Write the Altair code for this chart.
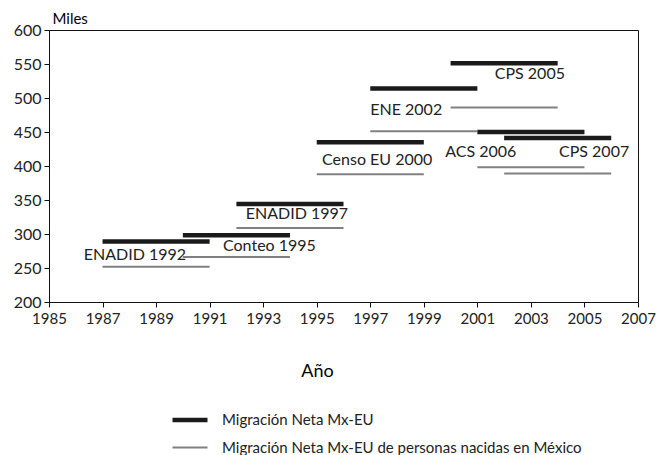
import altair as alt
import pandas as pd

sources = ["ENADID 1992", "Conteo 1995", "ENADID 1997", "Censo EU 2000",
           "ENE 2002", "CPS 2005", "ACS 2006", "CPS 2007"]
start_year = [1987, 1990, 1992, 1995, 1997, 2000, 2001, 2002]
end_year = [1991, 1994, 1996, 1999, 2001, 2004, 2005, 2006]
total_net = [289, 298, 344, 435, 514, 551, 450, 441]
mex_born_net = [252, 266, 309, 388, 451, 486, 398, 389]

label_x = [1986.3, 1991.5, 1992.35, 1995.2, 1997.0, 2001.65, 1999.8, 2004.05]
label_y = [269, 282, 330, 409, 482, 535, 420, 420]

s1 = "Migración Neta Mx-EU"
s2 = "Migración Neta Mx-EU de personas nacidas en México"

rows = []
for i, s in enumerate(sources):
    rows.append(dict(source=s, x=start_year[i], x2=end_year[i], v=total_net[i], serie=s1))
    rows.append(dict(source=s, x=start_year[i], x2=end_year[i], v=mex_born_net[i], serie=s2))
df = pd.DataFrame(rows)
labels = pd.DataFrame(dict(text=sources, x=label_x, y=label_y))

FONT = "Lato"
xs = alt.Scale(domain=[1985, 2007], nice=False)
ys = alt.Scale(domain=[200, 600], nice=False)

x_axis = alt.Axis(
    values=list(range(1985, 2008, 2)), format="d", title="Año",
    titleFontSize=18, titleFontWeight="normal", titleFont=FONT,
    titleX=268, titleY=74, titleAnchor="middle", titleAlign="center", titleBaseline="alphabetic",
    labelFont=FONT, labelFontSize=15, labelPadding=4, labelFlush=False, labelOverlap=False,
    tickSize=5, grid=False, domainColor="#111", tickColor="#111", labelColor="#222")
y_axis = alt.Axis(
    values=list(range(200, 601, 50)), format="d", title="Miles",
    titleAngle=0, titleX=3, titleY=-7, titleAlign="left", titleBaseline="alphabetic",
    titleFontSize=15, titleFontWeight="normal", titleFont=FONT,
    labelFont=FONT, labelFontSize=16, labelPadding=3, labelFlush=False, labelOverlap=False,
    tickSize=5, grid=False, domainColor="#111", tickColor="#111", labelColor="#222")

leg = alt.Legend(title=None, orient="none", legendX=121, legendY=370,
                 symbolType="stroke", symbolSize=1225, labelFont=FONT,
                 labelFontSize=15, labelColor="#222", labelOffset=12,
                 rowPadding=-10, padding=0, labelLimit=500)

bars = alt.Chart(df).mark_rule().encode(
    x=alt.X("x:Q", scale=xs, axis=x_axis),
    x2="x2:Q",
    y=alt.Y("v:Q", scale=ys, axis=y_axis),
    color=alt.Color("serie:N", scale=alt.Scale(domain=[s1, s2], range=["#1a1a1a", "#808080"]),
                    legend=leg),
    strokeWidth=alt.StrokeWidth("serie:N", scale=alt.Scale(domain=[s1, s2], range=[4.5, 2]),
                                legend=leg),
)

text = alt.Chart(labels).mark_text(align="left", baseline="middle", font=FONT,
                                   fontSize=16, color="#222").encode(
    x=alt.X("x:Q", scale=xs, axis=x_axis), y=alt.Y("y:Q", scale=ys, axis=y_axis), text="text:N")

chart = alt.layer(bars, text).properties(
    width=589, height=272, background="white",
    autosize=alt.AutoSizeParams(type="none"),
    padding={"left": 41, "top": 22, "right": 20, "bottom": 153},
).configure_view(stroke="#111", strokeWidth=1)

chart.save("out.html", embed_options={"renderer": "svg", "actions": False})
